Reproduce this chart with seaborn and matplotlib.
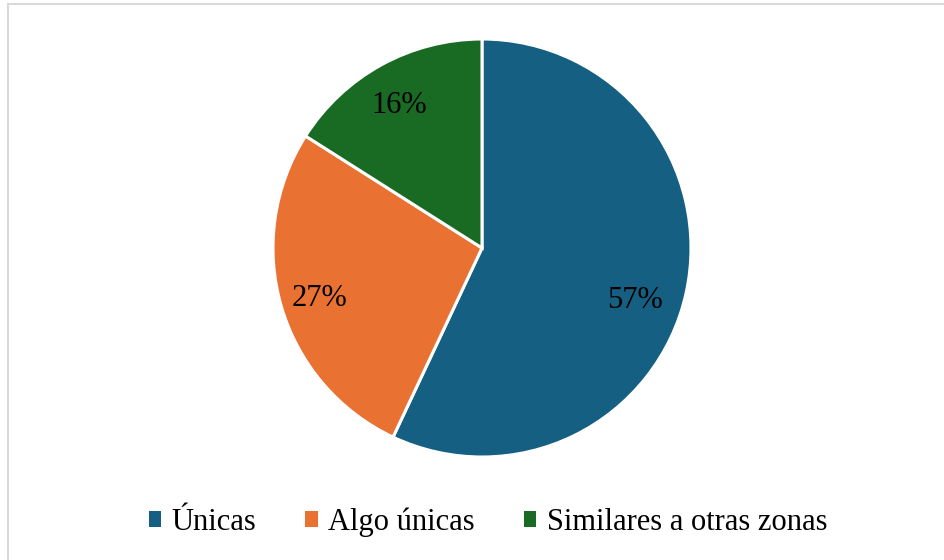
import matplotlib
matplotlib.use("Agg")
import numpy as np
import matplotlib.pyplot as plt
import seaborn as sns
from matplotlib.patches import Patch
from matplotlib.lines import Line2D

categories = ["Únicas", "Algo únicas", "Similares a otras zonas"]
shares = [57, 27, 16]
colors = ["#156082", "#E97132", "#196B24"]

sns.set_theme(style="white")
plt.rcParams["font.family"] = ["Liberation Serif", "DejaVu Serif"]
plt.rcParams["text.color"] = "black"

W, H = 945, 560
fig = plt.figure(figsize=(W / 100, H / 100), dpi=100)
fig.patch.set_facecolor("white")

# frame lines along the top and left edges
fig.add_artist(Line2D([8 / W, 1], [1 - 4 / H, 1 - 4 / H], color="#d9d9d9", lw=1.5))
fig.add_artist(Line2D([8 / W, 8 / W], [0, 1 - 4 / H], color="#d9d9d9", lw=1.5))

cx, cy, r = 482, 248, 209
ax = fig.add_axes([(cx - r) / W, 1 - (cy + r) / H, 2 * r / W, 2 * r / H])
wedges, texts, autotexts = ax.pie(
    shares,
    colors=colors,
    startangle=90,
    counterclock=False,
    autopct=lambda p: f"{p:.0f}%",
    pctdistance=0.8,
    wedgeprops=dict(edgecolor="white", linewidth=2.2),
    textprops=dict(fontsize=22, color="black"),
)
# nudge the largest slice's label a little lower inside its wedge
ang = np.deg2rad(-17.4)
autotexts[0].set_position((0.78 * np.cos(ang), 0.78 * np.sin(ang)))
for t in autotexts:
    x, y = t.get_position()
    t.set_position((x - 0.01, y - 0.02))

ax.set_xlim(-1, 1)
ax.set_ylim(-1, 1)
ax.set_aspect("equal")
ax.axis("off")

handles = [Patch(facecolor=c, edgecolor="none") for c in colors]
fig.legend(
    handles, categories,
    loc="center", bbox_to_anchor=(488 / W, 1 - 522 / H),
    ncol=3, frameon=False, fontsize=22, labelcolor="black",
    handlelength=0.4, handleheight=0.4, handletextpad=0.35,
    columnspacing=1.6,
)

fig.savefig("out.png", dpi=100, facecolor="white")
